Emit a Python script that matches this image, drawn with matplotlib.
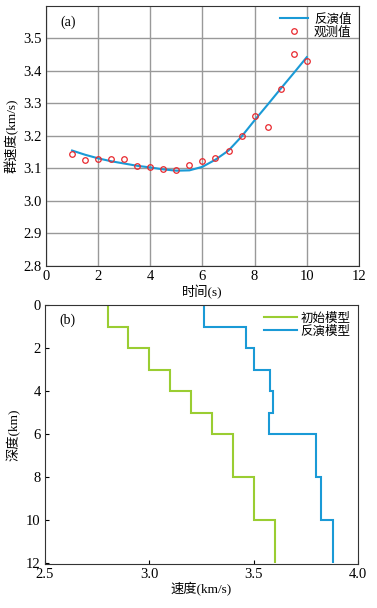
import numpy as np
import matplotlib
matplotlib.use("Agg")
import matplotlib.pyplot as plt

plt.rcParams['font.family'] = ['Liberation Serif', 'Noto Sans CJK SC']
plt.rcParams['xtick.direction'] = 'in'
plt.rcParams['ytick.direction'] = 'in'

## Data for (a): group velocity dispersion
t_obs = [1, 1.5, 2, 2.5, 3, 3.5, 4, 4.5, 5, 5.5, 6, 6.5, 7, 7.5, 8, 8.5, 9, 9.5, 10]
v_obs = [3.143, 3.126, 3.129, 3.128, 3.128, 3.108, 3.103, 3.098, 3.094, 3.112,
         3.122, 3.132, 3.155, 3.199, 3.262, 3.227, 3.343, 3.453, 3.430]
v_inv = [3.155, 3.142, 3.131, 3.122, 3.115, 3.108, 3.103, 3.097, 3.093, 3.094,
         3.105, 3.127, 3.155, 3.198, 3.248, 3.296, 3.345, 3.393, 3.442]

## Data for (b): velocity models (layers in km)
depth_edges = [0, 1, 2, 3, 4, 5, 6, 8, 10, 12]
vs_init = [2.8, 2.9, 3.0, 3.1, 3.2, 3.3, 3.4, 3.5, 3.6]
vs_inv = [3.26, 3.463, 3.50, 3.58, 3.593, 3.571, 3.80, 3.82, 3.88]

blue = '#1a9ad6'
green = '#9acd32'
spine_col = '#333333'

fig = plt.figure(figsize=(3.77, 6.08), dpi=100)

## (a)
ax1 = fig.add_axes([0.122, 0.5625, 0.830, 0.428])
ax1.plot(t_obs, v_inv, color=blue, lw=1.5, label='反演值')
ax1.plot(t_obs, v_obs, 'o', mfc='none', mec='#e8282e', ms=4, mew=0.9, label='观测值')
ax1.set_xlim(0, 12)
ax1.set_ylim(2.8, 3.6)
ax1.set_xticks(np.arange(0, 13, 2))
ax1.set_yticks(np.arange(2.8, 3.55, 0.1))
ax1.set_yticklabels([f"{v:.1f}" for v in np.arange(2.8, 3.55, 0.1)])
ax1.grid(True, color='#999999', lw=1.0)
ax1.set_axisbelow(True)
ax1.tick_params(labelsize=10.5, length=0, pad=3)
ax1.set_xlabel('时间(s)', fontsize=9.5, labelpad=1)
ax1.set_ylabel('群速度(km/s)', fontsize=9.5, labelpad=3)
ax1.text(0.045, 0.937, '(a)', transform=ax1.transAxes, fontsize=10, va='center')
ax1.legend(loc='upper right', frameon=False, fontsize=9, handlelength=2.2,
           borderaxespad=0.2, labelspacing=0.05, handletextpad=0.5)

## (b)
ax2 = fig.add_axes([0.119, 0.0724, 0.831, 0.4256])
ax2.stairs(vs_init, depth_edges, orientation='horizontal', baseline=None,
           color=green, lw=1.5, label='初始模型')
ax2.stairs(vs_inv, depth_edges, orientation='horizontal', baseline=None,
           color=blue, lw=1.5, label='反演模型')
ax2.set_xlim(2.5, 4.0)
ax2.set_ylim(12.05, 0)
ax2.set_xticks([2.5, 3.0, 3.5, 4.0])
ax2.set_xticklabels(['2.5', '3.0', '3.5', '4.0'])
ax2.set_yticks(np.arange(0, 13, 2))
ax2.tick_params(labelsize=10.5, length=3, pad=3)
ax2.set_xlabel('速度(km/s)', fontsize=9.5, labelpad=1)
ax2.set_ylabel('深度(km)', fontsize=9.5, labelpad=4)
ax2.text(0.045, 0.94, '(b)', transform=ax2.transAxes, fontsize=10, va='center')
ax2.legend(loc='upper right', frameon=False, fontsize=9, handlelength=2.6,
           borderaxespad=0.2, labelspacing=0.05, handletextpad=0.3)

for ax in (ax1, ax2):
    for s in ax.spines.values():
        s.set_color(spine_col)

fig.savefig('out.png', dpi=100)
